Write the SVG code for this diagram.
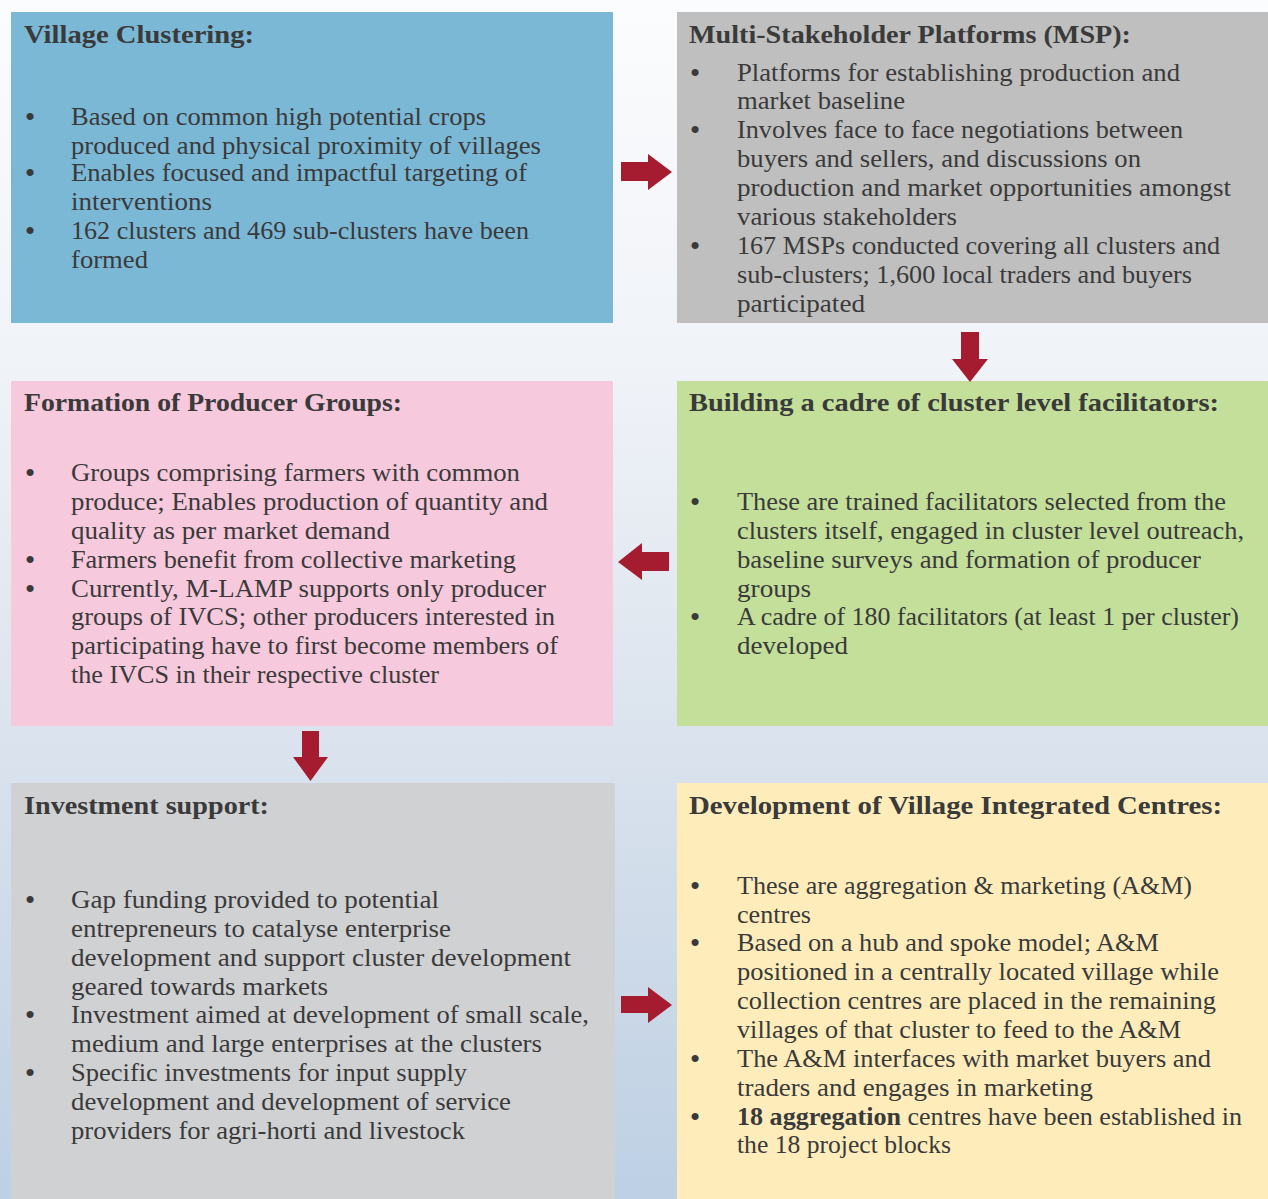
<svg xmlns="http://www.w3.org/2000/svg" width="1268" height="1199" viewBox="0 0 1268 1199">
<defs>
<linearGradient id="bg" x1="0" y1="0" x2="0" y2="1">
<stop offset="0" stop-color="#fbfcfd"/>
<stop offset="0.3" stop-color="#f0f3f8"/>
<stop offset="0.5" stop-color="#e3e9f1"/>
<stop offset="0.85" stop-color="#c9d7e7"/>
<stop offset="1" stop-color="#bdd0e4"/>
</linearGradient>
</defs>
<style>
text{font-family:"Liberation Serif","Times New Roman",serif;fill:#3a3a3a;}
.t{font-size:26px;font-weight:bold;}
.b{font-size:25px;}
.bl{font-size:26px;font-weight:bold;}
.arrow{fill:#a51c30;}
</style>
<rect x="0" y="0" width="1268" height="1199" fill="url(#bg)"/>

<g id="village-clustering">
<rect x="11" y="12" width="602" height="311" fill="#7ab8d6"/>
<text class="t" x="24" y="43" textLength="230" lengthAdjust="spacingAndGlyphs">Village Clustering:</text>
<text class="bl" x="25.5" y="125">•</text>
<text class="b" x="71" y="125" textLength="415" lengthAdjust="spacingAndGlyphs">Based on common high potential crops</text>
<text class="b" x="71" y="154" textLength="470" lengthAdjust="spacingAndGlyphs">produced and physical proximity of villages</text>
<text class="bl" x="25.5" y="181">•</text>
<text class="b" x="71" y="181" textLength="456" lengthAdjust="spacingAndGlyphs">Enables focused and impactful targeting of</text>
<text class="b" x="71" y="210" textLength="141" lengthAdjust="spacingAndGlyphs">interventions</text>
<text class="bl" x="25.5" y="239">•</text>
<text class="b" x="71" y="239" textLength="458" lengthAdjust="spacingAndGlyphs">162 clusters and 469 sub-clusters have been</text>
<text class="b" x="71" y="268" textLength="77" lengthAdjust="spacingAndGlyphs">formed</text>
</g>

<g id="msp">
<rect x="677" y="12" width="591" height="311" fill="#bfbfbf"/>
<text class="t" x="689" y="43" textLength="442" lengthAdjust="spacingAndGlyphs">Multi-Stakeholder Platforms (MSP):</text>
<text class="bl" x="690.5" y="81">•</text>
<text class="b" x="737" y="81" textLength="443" lengthAdjust="spacingAndGlyphs">Platforms for establishing production and</text>
<text class="b" x="737" y="109" textLength="168" lengthAdjust="spacingAndGlyphs">market baseline</text>
<text class="bl" x="690.5" y="138">•</text>
<text class="b" x="737" y="138" textLength="446" lengthAdjust="spacingAndGlyphs">Involves face to face negotiations between</text>
<text class="b" x="737" y="167" textLength="404" lengthAdjust="spacingAndGlyphs">buyers and sellers, and discussions on</text>
<text class="b" x="737" y="196" textLength="494" lengthAdjust="spacingAndGlyphs">production and market opportunities amongst</text>
<text class="b" x="737" y="225" textLength="220" lengthAdjust="spacingAndGlyphs">various stakeholders</text>
<text class="bl" x="690.5" y="254">•</text>
<text class="b" x="737" y="254" textLength="483" lengthAdjust="spacingAndGlyphs">167 MSPs conducted covering all clusters and</text>
<text class="b" x="737" y="283" textLength="455" lengthAdjust="spacingAndGlyphs">sub-clusters; 1,600 local traders and buyers</text>
<text class="b" x="737" y="312" textLength="128" lengthAdjust="spacingAndGlyphs">participated</text>
</g>

<g id="producer-groups">
<rect x="11" y="381" width="602" height="345" fill="#f6c9dc"/>
<text class="t" x="24" y="411" textLength="378" lengthAdjust="spacingAndGlyphs">Formation of Producer Groups:</text>
<text class="bl" x="25.5" y="481">•</text>
<text class="b" x="71" y="481" textLength="449" lengthAdjust="spacingAndGlyphs">Groups comprising farmers with common</text>
<text class="b" x="71" y="510" textLength="477" lengthAdjust="spacingAndGlyphs">produce; Enables production of quantity and</text>
<text class="b" x="71" y="539" textLength="319" lengthAdjust="spacingAndGlyphs">quality as per market demand</text>
<text class="bl" x="25.5" y="568">•</text>
<text class="b" x="71" y="568" textLength="445" lengthAdjust="spacingAndGlyphs">Farmers benefit from collective marketing</text>
<text class="bl" x="25.5" y="597">•</text>
<text class="b" x="71" y="597" textLength="475" lengthAdjust="spacingAndGlyphs">Currently, M-LAMP supports only producer</text>
<text class="b" x="71" y="625" textLength="484" lengthAdjust="spacingAndGlyphs">groups of IVCS; other producers interested in</text>
<text class="b" x="71" y="654" textLength="487" lengthAdjust="spacingAndGlyphs">participating have to first become members of</text>
<text class="b" x="71" y="683" textLength="368" lengthAdjust="spacingAndGlyphs">the IVCS in their respective cluster</text>
</g>

<g id="facilitators">
<rect x="677" y="381" width="591" height="345" fill="#c3df9a"/>
<text class="t" x="689" y="411" textLength="530" lengthAdjust="spacingAndGlyphs">Building a cadre of cluster level facilitators:</text>
<text class="bl" x="690.5" y="510">•</text>
<text class="b" x="737" y="510" textLength="489" lengthAdjust="spacingAndGlyphs">These are trained facilitators selected from the</text>
<text class="b" x="737" y="539" textLength="507" lengthAdjust="spacingAndGlyphs">clusters itself, engaged in cluster level outreach,</text>
<text class="b" x="737" y="568" textLength="464" lengthAdjust="spacingAndGlyphs">baseline surveys and formation of producer</text>
<text class="b" x="737" y="597" textLength="74" lengthAdjust="spacingAndGlyphs">groups</text>
<text class="bl" x="690.5" y="625">•</text>
<text class="b" x="737" y="625" textLength="502" lengthAdjust="spacingAndGlyphs">A cadre of 180 facilitators (at least 1 per cluster)</text>
<text class="b" x="737" y="654" textLength="111" lengthAdjust="spacingAndGlyphs">developed</text>
</g>

<g id="investment-support">
<rect x="11" y="783" width="604" height="416" fill="#d0d1d3"/>
<text class="t" x="24" y="814" textLength="245" lengthAdjust="spacingAndGlyphs">Investment support:</text>
<text class="bl" x="25.5" y="908">•</text>
<text class="b" x="71" y="908" textLength="368" lengthAdjust="spacingAndGlyphs">Gap funding provided to potential</text>
<text class="b" x="71" y="937" textLength="380" lengthAdjust="spacingAndGlyphs">entrepreneurs to catalyse enterprise</text>
<text class="b" x="71" y="966" textLength="500" lengthAdjust="spacingAndGlyphs">development and support cluster development</text>
<text class="b" x="71" y="995" textLength="257" lengthAdjust="spacingAndGlyphs">geared towards markets</text>
<text class="bl" x="25.5" y="1023">•</text>
<text class="b" x="71" y="1023" textLength="518" lengthAdjust="spacingAndGlyphs">Investment aimed at development of small scale,</text>
<text class="b" x="71" y="1052" textLength="471" lengthAdjust="spacingAndGlyphs">medium and large enterprises at the clusters</text>
<text class="bl" x="25.5" y="1081">•</text>
<text class="b" x="71" y="1081" textLength="396" lengthAdjust="spacingAndGlyphs">Specific investments for input supply</text>
<text class="b" x="71" y="1110" textLength="440" lengthAdjust="spacingAndGlyphs">development and development of service</text>
<text class="b" x="71" y="1139" textLength="394" lengthAdjust="spacingAndGlyphs">providers for agri-horti and livestock</text>
</g>

<g id="village-integrated-centres">
<rect x="677" y="783" width="591" height="416" fill="#feedba"/>
<text class="t" x="689" y="814" textLength="533" lengthAdjust="spacingAndGlyphs">Development of Village Integrated Centres:</text>
<text class="bl" x="690.5" y="894">•</text>
<text class="b" x="737" y="894" textLength="455" lengthAdjust="spacingAndGlyphs">These are aggregation &amp; marketing (A&amp;M)</text>
<text class="b" x="737" y="923" textLength="74" lengthAdjust="spacingAndGlyphs">centres</text>
<text class="bl" x="690.5" y="951">•</text>
<text class="b" x="737" y="951" textLength="422" lengthAdjust="spacingAndGlyphs">Based on a hub and spoke model; A&amp;M</text>
<text class="b" x="737" y="980" textLength="482" lengthAdjust="spacingAndGlyphs">positioned in a centrally located village while</text>
<text class="b" x="737" y="1009" textLength="479" lengthAdjust="spacingAndGlyphs">collection centres are placed in the remaining</text>
<text class="b" x="737" y="1038" textLength="444" lengthAdjust="spacingAndGlyphs">villages of that cluster to feed to the A&amp;M</text>
<text class="bl" x="690.5" y="1067">•</text>
<text class="b" x="737" y="1067" textLength="474" lengthAdjust="spacingAndGlyphs">The A&amp;M interfaces with market buyers and</text>
<text class="b" x="737" y="1096" textLength="356" lengthAdjust="spacingAndGlyphs">traders and engages in marketing</text>
<text class="bl" x="690.5" y="1125">•</text>
<text class="b" x="737" y="1125" textLength="505" lengthAdjust="spacingAndGlyphs"><tspan font-weight="bold">18 aggregation</tspan> centres have been established in</text>
<text class="b" x="737" y="1153" textLength="214" lengthAdjust="spacingAndGlyphs">the 18 project blocks</text>
</g>

<g id="connectors">
<polygon class="arrow" points="621,162 648,162 648,154 672,172 648,190 648,181 621,181"/>
<polygon class="arrow" points="961,332 979,332 979,359 988,359 970,382 952,359 961,359"/>
<polygon class="arrow" points="669,552 642,552 642,543 618,562 642,580 642,571 669,571"/>
<polygon class="arrow" points="302,731 319,731 319,757 328,757 310.5,781 293,757 302,757"/>
<polygon class="arrow" points="621,996 648,996 648,987 672,1005 648,1023 648,1013 621,1013"/>
</g>
</svg>
